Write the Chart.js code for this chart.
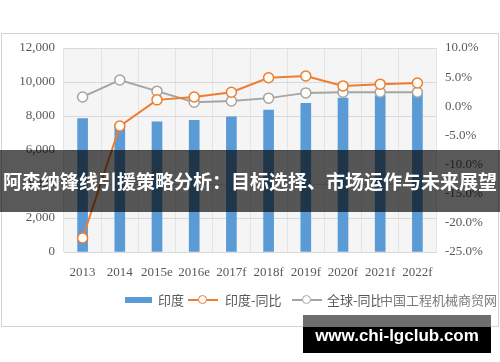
<!DOCTYPE html>
<html>
<head>
<meta charset="utf-8">
<script src="https://cdn.jsdelivr.net/npm/chart.js@4.4.1/dist/chart.umd.min.js"></script>
<style>
  html, body { margin: 0; padding: 0; background: #fff; }
  #wrap { position: relative; width: 500px; height: 362px; overflow: hidden; }
  #frame { position: absolute; left: 1px; top: 33px; width: 496px; height: 292px; border: 1px solid #d4d4d4; }
  canvas { position: absolute; left: 0; top: 0; }
  .lg { position: absolute; font-family: "Noto Sans CJK SC", sans-serif; font-size: 13px; color: #595959; line-height: 16px; top: 292px; white-space: nowrap; }
  .ln { position: absolute; height: 2px; top: 299px; width: 30px; }
  .dot { position: absolute; width: 7px; height: 7px; border-radius: 50%; background: #fff; top: 295px; border: 1.5px solid; }
  #banner { position: absolute; left: 0; top: 150px; width: 500px; height: 62px; background: rgba(0,0,0,0.65);
            color: #fff; font-family: "Noto Sans CJK SC", sans-serif; font-weight: bold; font-size: 19px;
            line-height: 62px; text-align: center; white-space: nowrap; }
  #site-top { position: absolute; left: 303px; top: 315px; width: 188px; height: 12px; background: #6e6e6e; }
  #site { position: absolute; left: 303px; top: 327px; width: 188px; height: 26px; background: #000;
          color: #fff; font-family: "Liberation Sans", sans-serif; font-weight: bold; font-size: 17px;
          line-height: 18px; text-align: center; }
</style>
</head>
<body>
<div id="wrap">
  <div id="frame"></div>
  <canvas id="c" width="500" height="362"></canvas>

  <!-- leyenda estilo Excel -->
  <div style="position:absolute;left:125px;top:297px;width:27px;height:6px;background:#5b9bd5"></div>
  <div class="lg" style="left:158px">印度</div>
  <div class="ln" style="left:188px;background:#ed7d31"></div>
  <div class="dot" style="left:198px;border-color:#ed7d31"></div>
  <div class="lg" style="left:225px">印度-同比</div>
  <div class="ln" style="left:292px;background:#a5a5a5"></div>
  <div class="dot" style="left:302px;border-color:#a5a5a5"></div>
  <div class="lg" style="left:327px">全球-同比</div>
  <div class="lg" style="left:380px;color:#7a7a7a;background:rgba(255,255,255,0.6)">中国工程机械商贸网</div>

  <div id="banner">阿森纳锋线引援策略分析：目标选择、市场运作与未来展望</div>
  <div id="site-top"></div>
  <div id="site">www.chi-lgclub.com</div>
</div>

<script>
// ---- datos ----
const years = ['2013', '2014', '2015e', '2016e', '2017f', '2018f', '2019f', '2020f', '2021f', '2022f'];
const india = [7850, 7500, 7650, 7750, 7950, 8350, 8750, 9050, 9200, 9400];
const indiaYoY = [-22.6, -3.4, 1.1, 1.6, 2.4, 4.9, 5.2, 3.5, 3.8, 4.0];
const globalYoY = [1.6, 4.5, 2.6, 0.7, 0.9, 1.4, 2.3, 2.4, 2.4, 2.4];

const tickFont = { family: '"Liberation Serif", serif', size: 13 };
const tickColor = '#595959';

// fondo gris claro del área de trazado
const plotBg = {
    id: 'plotBg',
    beforeDraw(chart) {
        const { ctx, chartArea: a } = chart;
        ctx.save();
        ctx.fillStyle = '#f5f5f5';
        ctx.fillRect(a.left, a.top, a.right - a.left, a.bottom - a.top);
        ctx.restore();
    }
};

function lineDataset(label, data, color, order) {
    return {
        type: 'line',
        label,
        data,
        yAxisID: 'y1',
        borderColor: color,
        borderWidth: 2,
        pointRadius: 5,
        pointBorderWidth: 1.5,
        pointBackgroundColor: '#fffdf7',
        pointBorderColor: color,
        tension: 0,
        order
    };
}

new Chart(document.getElementById('c'), {
    type: 'bar',
    data: {
        labels: years,
        datasets: [
            {
                label: '印度',
                data: india,
                backgroundColor: '#5b9bd5',
                barThickness: 10,
                yAxisID: 'y',
                order: 3
            },
            lineDataset('印度-同比', indiaYoY, '#ed7d31', 1),
            lineDataset('全球-同比', globalYoY, '#a5a5a5', 2)
        ]
    },
    options: {
        responsive: false,
        animation: false,
        layout: { padding: { top: 48, left: 0, right: 0, bottom: 0 } },
        plugins: {
            legend: { display: false },
            tooltip: { enabled: false }
        },
        scales: {
            x: {
                grid: { color: '#e4e4e4', drawTicks: false },
                border: { color: '#d9d9d9' },
                ticks: { font: tickFont, color: tickColor, padding: 13, maxRotation: 0 },
                afterFit: s => { s.height = 110; }
            },
            y: {
                position: 'left',
                min: 0,
                max: 12000,
                grid: { color: '#d9d9d9', drawTicks: false },
                border: { display: false },
                ticks: {
                    stepSize: 2000,
                    font: tickFont,
                    color: tickColor,
                    padding: 9,
                    callback: v => v.toLocaleString('en-US')
                },
                afterFit: s => { s.width = 64; }
            },
            y1: {
                position: 'right',
                min: -25,
                max: 10,
                grid: { drawOnChartArea: false, drawTicks: false },
                border: { display: false },
                ticks: {
                    stepSize: 5,
                    font: tickFont,
                    color: tickColor,
                    padding: 9,
                    callback: v => v.toFixed(1) + '%'
                },
                afterFit: s => { s.width = 64; }
            }
        }
    },
    plugins: [plotBg]
});
</script>
</body>
</html>
